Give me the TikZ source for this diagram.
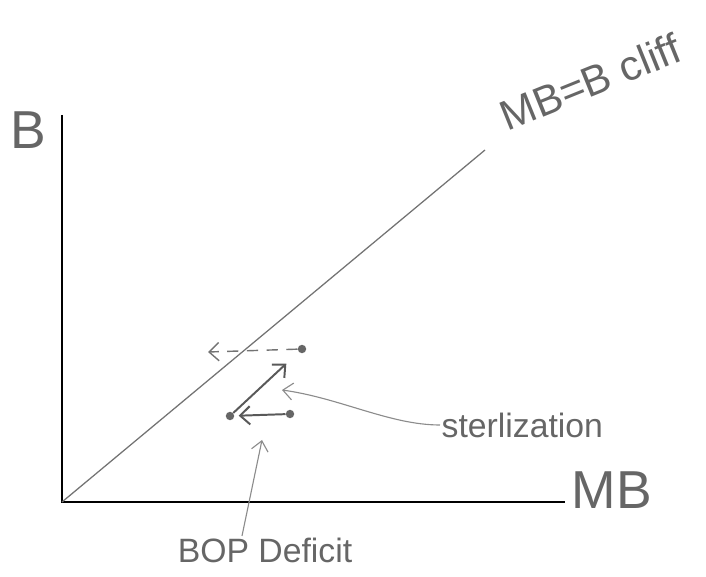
\documentclass[tikz,border=0pt]{standalone}
\usepackage{fontspec}
\setsansfont{Liberation Sans}
\usetikzlibrary{arrows.meta,positioning}

\begin{document}
\begin{tikzpicture}[
  x=0.025cm, y=-0.025cm,
  font=\sffamily,
  axis/.style={line width=1.6pt, draw=black},
  cliff/.style={draw=black!55, line width=0.9pt},
  hand/.style={text=black!60, inner sep=1pt},
  dot/.style={circle, fill=black!60, inner sep=0pt, minimum size=6pt},
  move/.style={-{Straight Barb[length=7pt, width=13pt]}, line width=1.4pt, draw=black!65},
  pointer/.style={-{Straight Barb[length=7pt, width=12pt]}, line width=0.8pt, draw=black!45}
]
\useasboundingbox (0,0) rectangle (706,577);

% axes
\coordinate (origin) at (62,502);
\coordinate (ytop) at (62,115);
\coordinate (xend) at (565,502);
\draw[axis] (ytop) -- (origin) -- (xend);
\node[hand, font=\sffamily\fontsize{38}{40}\selectfont] (blab) at (28,130) {B};
\node[hand, font=\sffamily\fontsize{38}{40}\selectfont] (mblab) at (612,490) {MB};

% cliff line
\coordinate (cliffend) at (485,150);
\draw[cliff] (origin) -- (cliffend);
\node[hand, rotate=22, font=\sffamily\fontsize{30}{32}\selectfont] (clifflab) at (590,82) {MB=B cliff};

% points
\node[dot] (a) at (230,416) {};
\node[dot] (b) at (290,414) {};
\node[dot] (c) at (302,349) {};
\coordinate (cshift) at (208,352);

\draw[move, shorten >=3pt] (b) -- (a);
\draw[move, shorten >=12pt] (a) -- (c);
\draw[move, dash pattern=on 8pt off 6pt, line width=1pt, draw=black!55] (c) -- (cshift);

% labels
\node[hand, font=\sffamily\fontsize{24}{26}\selectfont, anchor=west] (ster) at (440,425) {sterlization};
\coordinate (stertip) at (282,390);
\draw[pointer] (ster.west) .. controls (390,425) and (340,398) .. (stertip);

\node[hand, font=\sffamily\fontsize{24}{26}\selectfont] (bop) at (265,550) {BOP Deficit};
\coordinate (boptip) at (262,440);
\draw[pointer] (bop.north -| 242,0) -- (boptip);

\end{tikzpicture}
\end{document}
